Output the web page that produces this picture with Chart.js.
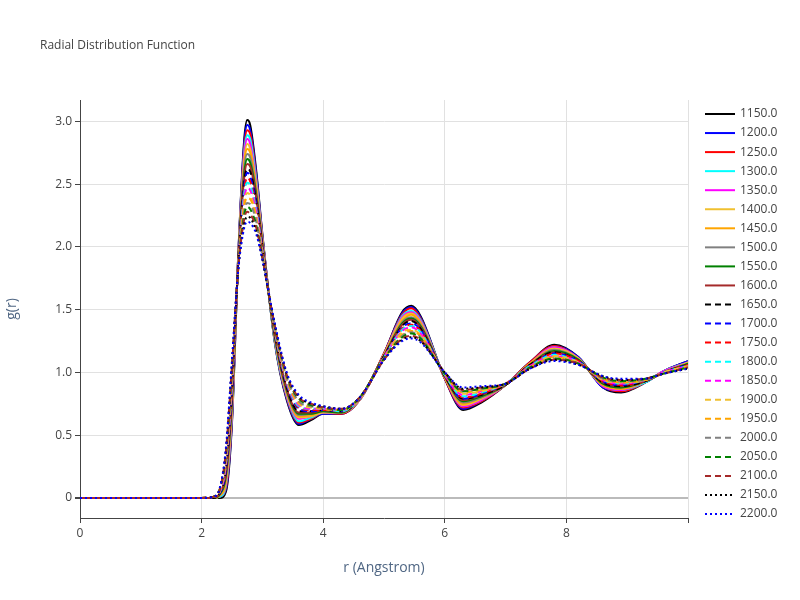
<!DOCTYPE html>
<html><head><meta charset="utf-8">
<script src="https://cdn.jsdelivr.net/npm/chart.js@4"></script>
<style>html,body{margin:0;background:#fff}#w{width:800px;height:600px}</style>
</head><body><div id="w"><canvas id="c"></canvas></div>
<script>
const rGrid=[0,2.0,2.2,2.3,2.4,2.5,2.6,2.7,2.75,2.8,2.9,3.0,3.2,3.4,3.6,3.8,4.0,4.3,4.6,5.0,5.3,5.45,5.6,6.0,6.3,6.6,7.0,7.4,7.8,8.2,8.6,8.9,9.3,9.6,10];
const temps=['1150.0','1200.0','1250.0','1300.0','1350.0','1400.0','1450.0','1500.0','1550.0','1600.0','1650.0','1700.0','1750.0','1800.0','1850.0','1900.0','1950.0','2000.0','2050.0','2100.0','2150.0','2200.0'];
const g1150=[0,0,0,0,.05,.60,1.90,2.85,3.01,2.97,2.60,2.10,1.25,.78,.58,.62,.67,.67,.78,1.15,1.48,1.53,1.45,.95,.70,.76,.90,1.08,1.22,1.12,.88,.84,.92,1.01,1.09];
const g1200=[0,0,0,.01,.07,.62,1.90,2.82,2.97,2.93,2.58,2.09,1.26,.79,.59,.63,.67,.67,.78,1.15,1.47,1.52,1.44,.95,.71,.77,.90,1.08,1.21,1.12,.88,.85,.92,1.01,1.09];
const g1250=[0,0,0,.01,.08,.65,1.89,2.78,2.93,2.90,2.55,2.08,1.26,.80,.60,.63,.68,.67,.78,1.15,1.46,1.51,1.43,.95,.72,.77,.90,1.08,1.21,1.11,.89,.85,.92,1.01,1.08];
const g1300=[0,0,0,.01,.10,.67,1.89,2.75,2.89,2.86,2.53,2.07,1.26,.81,.61,.64,.68,.68,.78,1.14,1.45,1.49,1.42,.96,.73,.78,.90,1.07,1.20,1.11,.89,.86,.92,1.01,1.08];
const g1350=[0,0,0,.02,.12,.70,1.88,2.72,2.86,2.82,2.50,2.06,1.28,.82,.63,.65,.68,.68,.78,1.14,1.44,1.48,1.41,.96,.73,.78,.90,1.07,1.20,1.11,.89,.86,.93,1.01,1.08];
const g1400=[0,0,0,.02,.13,.72,1.88,2.68,2.82,2.78,2.48,2.05,1.29,.83,.64,.65,.68,.68,.78,1.14,1.43,1.47,1.40,.96,.74,.79,.90,1.07,1.19,1.11,.90,.87,.93,1.00,1.08];
const g1450=[0,0,0,.02,.15,.74,1.87,2.65,2.78,2.75,2.46,2.04,1.29,.84,.65,.66,.69,.68,.79,1.14,1.41,1.46,1.39,.96,.75,.80,.90,1.07,1.18,1.10,.90,.87,.93,1.00,1.07];
const g1500=[0,0,0,.03,.17,.77,1.87,2.62,2.74,2.71,2.43,2.03,1.30,.85,.66,.67,.69,.68,.79,1.13,1.40,1.44,1.38,.97,.76,.80,.90,1.06,1.18,1.10,.91,.88,.93,1.00,1.07];
const g1550=[0,0,0,.03,.18,.79,1.86,2.58,2.70,2.67,2.41,2.02,1.30,.86,.67,.67,.69,.68,.79,1.13,1.39,1.43,1.37,.97,.77,.81,.90,1.06,1.17,1.10,.91,.88,.93,1.00,1.07];
const g1600=[0,0,0,.04,.20,.81,1.86,2.55,2.66,2.64,2.39,2.01,1.31,.87,.68,.68,.70,.69,.79,1.13,1.38,1.42,1.36,.97,.78,.82,.90,1.06,1.16,1.09,.92,.89,.93,1.00,1.06];
const g1650=[0,0,0,.04,.22,.84,1.85,2.52,2.62,2.60,2.36,2.00,1.32,.88,.69,.69,.70,.69,.79,1.13,1.37,1.41,1.35,.97,.79,.82,.90,1.06,1.16,1.09,.92,.89,.93,1.00,1.06];
const g1700=[0,0,.01,.04,.23,.86,1.85,2.48,2.59,2.56,2.34,1.99,1.33,.90,.71,.69,.70,.69,.79,1.12,1.36,1.39,1.34,.98,.79,.83,.91,1.05,1.15,1.09,.93,.90,.94,1.00,1.06];
const g1750=[0,0,.01,.05,.25,.89,1.84,2.45,2.55,2.52,2.31,1.98,1.34,.91,.72,.70,.70,.69,.79,1.12,1.35,1.38,1.33,.98,.80,.83,.91,1.05,1.15,1.09,.93,.90,.94,1.00,1.06];
const g1800=[0,0,.01,.05,.27,.91,1.84,2.42,2.51,2.49,2.29,1.97,1.34,.92,.73,.71,.71,.69,.79,1.12,1.34,1.37,1.32,.98,.81,.84,.91,1.05,1.14,1.08,.94,.91,.94,1.00,1.05];
const g1850=[0,0,.01,.05,.28,.93,1.83,2.38,2.47,2.45,2.27,1.96,1.35,.93,.74,.71,.71,.70,.79,1.12,1.33,1.36,1.31,.98,.82,.85,.91,1.05,1.13,1.08,.94,.91,.94,1.00,1.05];
const g1900=[0,0,.01,.06,.30,.96,1.83,2.35,2.43,2.41,2.24,1.95,1.36,.94,.75,.72,.71,.70,.79,1.11,1.32,1.34,1.30,.99,.83,.85,.91,1.04,1.13,1.08,.94,.92,.94,1.00,1.05];
const g1950=[0,0,.01,.06,.32,.98,1.82,2.32,2.39,2.38,2.22,1.94,1.36,.95,.76,.73,.71,.70,.80,1.11,1.30,1.33,1.29,.99,.84,.86,.91,1.04,1.12,1.07,.95,.92,.94,.99,1.04];
const g2000=[0,0,.01,.07,.33,1.00,1.82,2.28,2.35,2.34,2.20,1.93,1.37,.96,.77,.73,.72,.70,.80,1.11,1.29,1.32,1.28,.99,.85,.87,.91,1.04,1.11,1.07,.95,.93,.94,.99,1.04];
const g2050=[0,0,.01,.07,.35,1.03,1.81,2.25,2.32,2.30,2.17,1.92,1.37,.97,.79,.74,.72,.70,.80,1.11,1.28,1.31,1.27,.99,.85,.87,.91,1.04,1.11,1.07,.96,.93,.95,.99,1.04];
const g2100=[0,0,.01,.07,.37,1.05,1.81,2.22,2.28,2.26,2.15,1.91,1.38,.98,.80,.75,.72,.71,.80,1.10,1.27,1.29,1.26,1.00,.86,.88,.91,1.03,1.10,1.07,.96,.94,.95,.99,1.04];
const g2150=[0,0,.01,.08,.38,1.08,1.80,2.18,2.24,2.23,2.12,1.90,1.39,.99,.81,.75,.73,.71,.80,1.10,1.26,1.28,1.25,1.00,.87,.88,.91,1.03,1.10,1.06,.97,.94,.95,.99,1.03];
const g2200=[0,0,.01,.08,.40,1.10,1.80,2.15,2.20,2.19,2.10,1.90,1.40,1.00,.82,.76,.73,.71,.80,1.10,1.25,1.27,1.24,1.00,.88,.89,.91,1.03,1.09,1.06,.97,.95,.95,.99,1.03];
const series=[g1150,g1200,g1250,g1300,g1350,g1400,g1450,g1500,g1550,g1600,g1650,g1700,g1750,g1800,g1850,g1900,g1950,g2000,g2050,g2100,g2150,g2200];
const colors=['#000000','#0000ff','#ff0000','#00ffff','#ff00ff','#f0c030','#ffa500','#808080','#008000','#a52a2a'];
const datasets=series.map((s,i)=>{
  let color,dash=[];
  if(i<10){color=colors[i];}
  else if(i<20){color=colors[i-10];dash=[6,4];}
  else {color=i===20?'#000000':'#0000ff';dash=[2,3];}
  return {label:temps[i],data:s.map((v,k)=>({x:rGrid[k],y:v})),borderColor:color,backgroundColor:color,borderWidth:2,borderDash:dash,pointRadius:0,cubicInterpolationMode:'monotone',fill:false};
});
const font='"Open Sans", sans-serif';
const decor={id:'decor',afterDraw(chart){
  const ctx=chart.ctx;ctx.save();
  ctx.fillStyle='#444';ctx.font='12px '+font;ctx.textBaseline='middle';ctx.textAlign='left';
  ctx.fillText('Radial Distribution Function',40,46);
  datasets.forEach((d,i)=>{
    const y=114+i*19.05;
    ctx.strokeStyle=d.borderColor;ctx.lineWidth=2;ctx.setLineDash(d.borderDash);
    ctx.beginPath();ctx.moveTo(705,y);ctx.lineTo(735,y);ctx.stroke();
    ctx.setLineDash([]);ctx.fillStyle='#444';ctx.fillText(d.label,740,y);
  });
  ctx.restore();
}};
new Chart(document.getElementById('c'),{
  type:'line',
  data:{datasets:datasets.slice().reverse()},
  plugins:[decor],
  options:{
    responsive:true,maintainAspectRatio:false,animation:false,
    layout:{padding:{left:0,right:112,top:100,bottom:20}},
    plugins:{title:{display:false},legend:{display:false},tooltip:{enabled:false}},
    scales:{
      x:{type:'linear',min:0,max:10,ticks:{stepSize:2,color:'#444',font:{family:font,size:12},callback:v=>v===10?'':v},
        grid:{color:'#e1e1e1',drawTicks:true,tickColor:'#444',tickLength:5},border:{color:'#444'},
        title:{display:true,text:'r (Angstrom)',color:'#506784',font:{family:font,size:14}},
        afterFit:s=>{s.height=62;}},
      y:{type:'linear',min:-0.16,max:3.17,ticks:{color:'#444',font:{family:font,size:12}},
        afterBuildTicks:s=>{s.ticks=[0,0.5,1,1.5,2,2.5,3].map(v=>({value:v}));},
        grid:{color:c=>c.tick&&c.tick.value===0?'#bbb':'#e1e1e1',lineWidth:c=>c.tick&&c.tick.value===0?2:1,tickColor:'#444',tickLength:5},border:{color:'#444'},
        title:{display:true,text:'g(r)',color:'#506784',font:{family:font,size:14}},
        afterFit:s=>{s.width=80;}}
    }
  }
});
</script></body></html>
